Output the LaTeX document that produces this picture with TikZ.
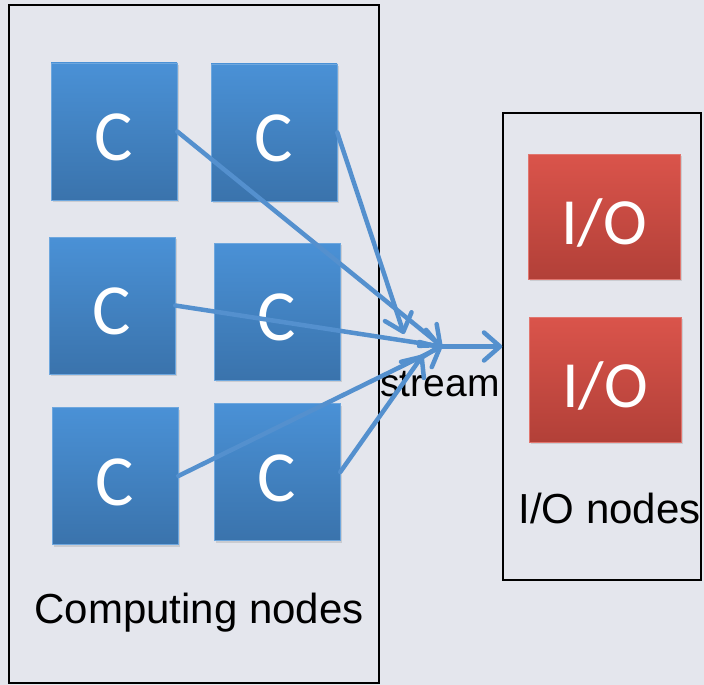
\documentclass[tikz,border=0pt]{standalone}
\usepackage{fontspec}
\setmainfont{Liberation Sans}
\newfontfamily\calibri{Carlito}
\usetikzlibrary{arrows.meta,shadows}
\definecolor{fondgris}{RGB}{228,230,237}
\definecolor{bleuhaut}{RGB}{74,145,214}
\definecolor{bleubas}{RGB}{58,115,172}
\definecolor{rougehaut}{RGB}{218,84,75}
\definecolor{rougebas}{RGB}{178,64,56}
\definecolor{fleche}{RGB}{84,144,206}
\tikzset{%
  boite/.style={rectangle, inner sep=0pt, text=white,
    text height=55pt, text depth=0pt,
    font=\calibri\fontsize{66}{70}\selectfont,
    drop shadow={opacity=0.25, shadow xshift=1.5pt, shadow yshift=-2pt}},
  calcul/.style={boite, top color=bleuhaut, bottom color=bleubas,
    draw=bleuhaut!80!white, line width=0.6pt,
    font=\calibri\fontsize{72}{76}\selectfont, text height=58pt,
    minimum width=126pt, minimum height=137pt},
  entsort/.style={boite, top color=rougehaut, bottom color=rougebas,
    draw=rougehaut!80!white, line width=0.6pt,
    minimum width=152pt, minimum height=125pt},
  cadre/.style={draw=black, line width=1.5pt, rectangle, inner sep=0pt},
  legende/.style={anchor=base, font=\fontsize{42}{48}\selectfont},
  flux/.style={draw=fleche, line width=4.5pt, line cap=round,
    -{Straight Barb[length=16pt,width=28pt,round]}},
}
\begin{document}
\begin{tikzpicture}[x=1pt,y=-1pt]
  % Fond
  \fill[fondgris] (0,0) rectangle (704,685);
  \useasboundingbox (0,0) rectangle (704,685);

  % Cadres
  \node[cadre, minimum width=370pt, minimum height=678pt] (calc) at (194,344) {};
  \node[cadre, minimum width=198pt, minimum height=467pt] (io) at (602,346.5) {};

  % Nœuds de calcul
  \node[calcul] (C1) at (114,131.5) {C};
  \node[calcul] (C2) at (274,132.5) {C};
  \node[calcul] (C3) at (112,305.5) {C};
  \node[calcul] (C4) at (277,311.5) {C};
  \node[calcul] (C5) at (115,476) {C};
  \node[calcul] (C6) at (277,472) {C};

  % Nœuds d'E/S
  \node[entsort] (IO1) at (604,216.5) {I/O};
  \node[entsort] (IO2) at (605,379.5) {I/O};

  % Textes
  \node[legende] (lcalc) at (199,623) {Computing nodes};
  \node[legende] (lio) at (609.5,523) {I/O nodes};
  \node[legende, font=\fontsize{39}{44}\selectfont] (lflux) at (440,396) {stream};

  % Coordonnées
  \coordinate (S) at (442,346.5);
  \coordinate (S2) at (404,334);
  \coordinate (S6) at (423,355);

  % Flèches
  \draw[flux] (C1.east) -- (S);
  \draw[flux] (C2.east) -- (S2);
  \draw[flux] (C3.east) -- (S);
  \draw[flux] (C5.east) -- (S);
  \draw[flux] (C6.east) -- (S6);
  \draw[flux] (S) -- (io.west);
\end{tikzpicture}
\end{document}
